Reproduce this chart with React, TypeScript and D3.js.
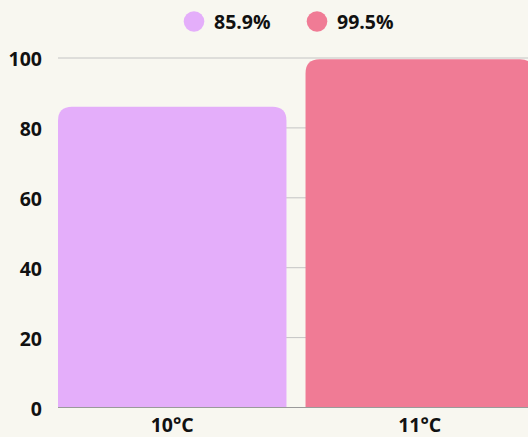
import { useEffect, useRef } from "react";
import * as d3 from "d3";

const categories = ["10°C", "11°C"];
const values = [85.9, 99.5];
const seriesLabels = ["85.9%", "99.5%"];
const colors = ["#E4AEFA", "#F07B95"];
const yTicks = [0, 20, 40, 60, 80, 100];

const W = 528;
const H = 437;
const FONT = "'Open Sans', sans-serif";
const FS = 19.5;

export default function App() {
  const svgRef = useRef<SVGSVGElement | null>(null);

  useEffect(() => {
    if (!svgRef.current) return;
    document.body.style.margin = "0";

    const margin = { top: 57.5, right: -6, bottom: 30, left: 58 };
    const innerW = W - margin.left - margin.right;
    const innerH = H - margin.top - margin.bottom;

    const svg = d3.select(svgRef.current);
    svg.selectAll("*").remove();

    svg.append("rect").attr("width", W).attr("height", H).attr("fill", "#F8F7F0");

    const g = svg.append("g").attr("transform", `translate(${margin.left},${margin.top})`);

    const x = d3.scaleBand().domain(categories).range([0, innerW]).paddingInner(0.077).paddingOuter(0);
    const y = d3.scaleLinear().domain([0, 100]).range([innerH, 0]);

    // grid lines
    g.append("g")
      .selectAll("line")
      .data(yTicks)
      .join("line")
      .attr("x1", 0)
      .attr("x2", W)
      .attr("y1", (d) => y(d) + 0.5)
      .attr("y2", (d) => y(d) + 0.5)
      .attr("stroke", (d) => (d === 0 ? "#9a9a9a" : "#c4c4c4"))
      .attr("stroke-width", 1);

    // bars, rounded at the top only
    const r = 14;
    const barPath = (x0: number, w: number, top: number, bottom: number) => {
      const rr = Math.min(r, w / 2, bottom - top);
      return `M${x0},${bottom}V${top + rr}Q${x0},${top} ${x0 + rr},${top}H${x0 + w - rr}Q${x0 + w},${top} ${x0 + w},${top + rr}V${bottom}Z`;
    };

    g.selectAll(".bar")
      .data(categories)
      .join("path")
      .attr("class", "bar")
      .attr("d", (c, i) => barPath(x(c)!, x.bandwidth(), y(values[i]), y(0)))
      .attr("fill", (_, i) => colors[i]);

    // y axis labels
    g.append("g")
      .selectAll("text")
      .data(yTicks)
      .join("text")
      .attr("x", -16)
      .attr("y", (d) => y(d) + 1)
      .attr("text-anchor", "end")
      .attr("dominant-baseline", "central")
      .attr("font-family", FONT)
      .attr("font-weight", 700)
      .attr("font-size", FS)
      .attr("fill", "#111")
      .text((d) => String(d));

    // x axis labels
    g.append("g")
      .selectAll("text")
      .data(categories)
      .join("text")
      .attr("x", (c) => x(c)! + x.bandwidth() / 2)
      .attr("y", innerH + 24.5)
      .attr("text-anchor", "middle")
      .attr("font-family", FONT)
      .attr("font-weight", 700)
      .attr("font-size", FS)
      .attr("fill", "#111")
      .text((c) => c);

    // legend
    const legend = svg.append("g").attr("transform", "translate(194,21.5)");
    const item = legend
      .selectAll("g")
      .data(seriesLabels)
      .join("g")
      .attr("transform", (_, i) => `translate(${i * 123},0)`);
    item.append("circle").attr("r", 10.3).attr("fill", (_, i) => colors[i]);
    item
      .append("text")
      .attr("x", 20)
      .attr("y", 0)
      .attr("dominant-baseline", "central")
      .attr("font-family", FONT)
      .attr("font-weight", 700)
      .attr("font-size", FS)
      .attr("fill", "#111")
      .text((d) => d);
  }, []);

  return (
    <div style={{ position: "fixed", left: 0, top: 0, width: W, height: H, overflow: "hidden" }}>
      <svg ref={svgRef} width={W} height={H} style={{ display: "block" }} />
    </div>
  );
}
